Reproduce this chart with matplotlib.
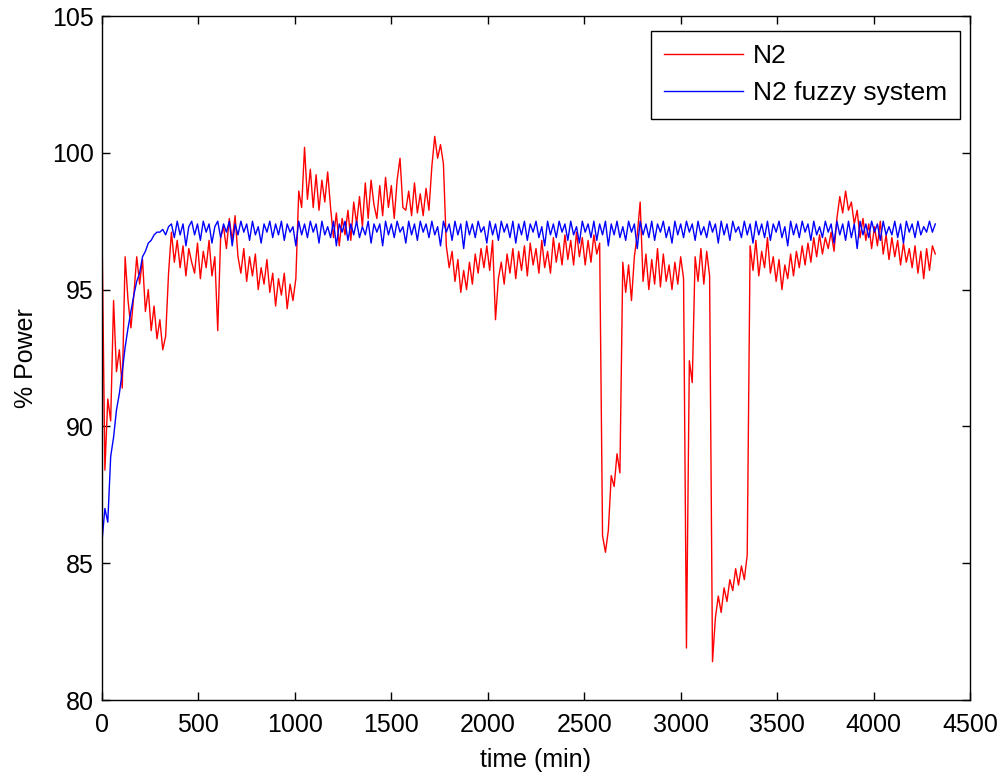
import numpy as np
import matplotlib
matplotlib.use("Agg")
import matplotlib.pyplot as plt

plt.rcParams['font.family'] = ['Liberation Sans', 'DejaVu Sans']

# sampling step of both records (minutes)
step_min = 15

# N2 measured power (%), one value every 15 min from 0 to 4320 min
n2_power = [
    97.2, 88.4, 91.0, 90.2, 94.6, 92.0, 92.8, 91.4,
    96.2, 94.6, 93.6, 94.8, 96.2, 95.2, 96.1, 94.2,
    95.0, 93.5, 94.4, 93.2, 93.9, 92.8, 93.3, 95.6,
    97.1, 96.0, 96.8, 95.8, 96.6, 95.5, 96.5, 96.0,
    95.6, 96.7, 95.4, 96.4, 95.8, 96.8, 95.5, 96.2,
    93.5, 96.9, 97.3, 96.5, 97.6, 96.8, 97.7, 96.2,
    95.6, 96.5, 95.3, 96.2, 95.5, 96.3, 95.0, 95.8,
    95.2, 96.1, 94.9, 95.6, 94.4, 95.4, 94.8, 95.6,
    94.3, 95.2, 94.6, 95.4, 98.6, 98.0, 100.2, 98.3,
    99.4, 98.0, 99.2, 97.9, 99.0, 98.2, 99.3, 98.0,
    96.9, 97.8, 96.6, 97.6, 97.0, 97.9, 96.8, 98.2,
    97.4, 98.4, 97.3, 98.9, 97.6, 99.0, 98.1, 97.6,
    98.8, 97.7, 99.1, 98.0, 98.8, 97.6, 99.0, 99.8,
    98.0, 97.9, 98.6, 97.7, 98.9, 97.8, 98.5, 97.7,
    98.7, 97.9, 99.5, 100.6, 99.8, 100.3, 99.6, 96.6,
    95.8, 96.4, 95.3, 96.1, 94.9, 95.7, 95.0, 96.0,
    95.2, 96.3, 95.6, 96.5, 95.8, 96.6, 95.7, 96.8,
    93.9, 95.4, 96.0, 95.2, 96.3, 95.6, 96.5, 95.4,
    96.4, 95.7, 96.6, 95.5, 96.7, 95.9, 96.5, 95.6,
    96.8, 95.8, 96.4, 95.6, 96.9, 96.0, 96.7, 95.9,
    97.0, 96.1, 96.8, 95.9, 97.1, 96.2, 96.9, 95.9,
    96.8, 96.0, 97.0, 96.3, 96.7, 86.0, 85.4, 86.2,
    88.2, 87.8, 89.0, 88.3, 96.0, 94.9, 95.9, 94.6,
    96.2, 97.0, 98.2, 95.3, 96.3, 95.0, 96.1, 95.2,
    96.5, 95.1, 96.3, 95.3, 95.9, 95.0, 96.0, 95.2,
    96.2, 95.4, 81.9, 92.4, 91.6, 96.2, 95.3, 96.5,
    95.2, 96.4, 95.5, 81.4, 83.0, 83.8, 83.2, 84.1,
    83.6, 84.4, 84.0, 84.8, 84.2, 84.9, 84.4, 85.3,
    96.6, 95.7, 96.8, 95.5, 96.4, 95.8, 96.9, 95.6,
    96.2, 95.3, 96.1, 95.0, 95.9, 95.4, 96.3, 95.5,
    96.4, 95.8, 96.6, 95.9, 96.7, 96.0, 96.9, 96.2,
    97.0, 96.3, 96.9, 96.5, 97.1, 96.4, 97.6, 98.4,
    97.8, 98.6, 97.9, 98.2, 97.4, 97.9, 96.9, 97.6,
    96.8, 97.4, 96.5, 97.3, 96.6, 97.5, 96.3, 97.0,
    96.1, 96.9, 96.2, 96.8, 95.9, 96.7, 96.0, 96.5,
    95.8, 96.6, 95.6, 96.4, 95.4, 96.5, 95.7, 96.6,
    96.3,
]

# N2 fuzzy system output (%), same sampling
fuzzy_power = [
    85.8, 87.0, 86.5, 88.9, 89.6, 90.6, 91.2, 92.0,
    92.9, 93.6, 94.2, 94.8, 95.3, 95.6, 96.2, 96.4,
    96.7, 96.8, 97.0, 97.1, 97.1, 97.2, 97.0, 97.3,
    97.4, 96.9, 97.5, 97.0, 97.4, 96.6, 97.3, 97.5,
    97.0, 97.4, 96.8, 97.5, 97.1, 97.4, 96.7, 97.3,
    97.5, 96.9, 97.4, 97.1, 97.5, 96.6, 97.4, 97.0,
    97.5, 97.1, 97.4, 96.8, 97.5, 97.0, 97.3, 96.7,
    97.4, 97.1, 97.5, 96.9, 97.4, 97.0, 97.5, 96.8,
    97.4, 97.1, 97.3, 96.6, 97.5, 97.0, 97.4, 96.9,
    97.5, 97.1, 97.4, 96.7, 97.5, 97.0, 97.3, 96.9,
    97.5, 96.6, 97.4, 97.1, 97.5, 96.8, 97.4, 97.0,
    97.5, 96.9, 97.3, 97.0, 97.5, 96.7, 97.4, 97.1,
    97.4, 96.6, 97.5, 97.0, 97.4, 96.9, 97.5, 97.1,
    97.3, 96.7, 97.5, 97.0, 97.4, 96.8, 97.5, 97.1,
    97.4, 96.9, 97.5, 97.0, 97.3, 96.6, 97.5, 97.1,
    97.4, 96.8, 97.5, 97.0, 97.4, 96.5, 97.5, 97.0,
    97.4, 96.9, 97.5, 97.1, 97.3, 96.7, 97.5, 97.0,
    97.4, 96.8, 97.5, 97.1, 97.4, 96.9, 97.5, 96.7,
    97.4, 97.0, 97.5, 96.8, 97.4, 97.1, 97.5, 96.9,
    97.3, 96.6, 97.5, 97.0, 97.4, 96.9, 97.5, 97.1,
    97.4, 96.8, 97.5, 97.0, 97.3, 96.7, 97.5, 97.1,
    97.4, 96.9, 97.5, 96.8, 97.4, 97.0, 97.5, 96.6,
    97.4, 97.0, 97.5, 96.9, 97.3, 96.8, 97.5, 97.1,
    97.4, 96.5, 97.5, 97.0, 97.4, 96.9, 97.5, 96.8,
    97.4, 97.1, 97.5, 96.9, 97.3, 96.7, 97.5, 97.0,
    97.4, 96.9, 97.5, 97.1, 97.4, 96.8, 97.5, 97.0,
    97.3, 96.9, 97.5, 97.1, 97.4, 96.7, 97.5, 97.0,
    97.4, 96.8, 97.5, 97.1, 97.3, 96.9, 97.5, 97.0,
    97.4, 96.7, 97.5, 97.0, 97.4, 96.9, 97.5, 96.8,
    97.4, 97.1, 97.5, 96.9, 97.3, 96.6, 97.5, 97.0,
    97.4, 96.9, 97.5, 97.1, 97.4, 96.8, 97.5, 97.0,
    97.3, 96.9, 97.5, 97.1, 97.4, 96.7, 97.5, 97.0,
    97.4, 96.8, 97.5, 96.9, 97.4, 96.5, 97.5, 97.0,
    97.4, 96.9, 97.5, 97.1, 97.4, 96.8, 97.5, 97.0,
    97.3, 97.0, 97.5, 96.9, 97.4, 96.7, 97.5, 97.1,
    97.4, 96.9, 97.5, 97.0, 97.3, 97.1, 97.5, 97.1,
    97.4,
]

series_labels = ["N2", "N2 fuzzy system"]
x_ticks = [0, 500, 1000, 1500, 2000, 2500, 3000, 3500, 4000, 4500]
y_ticks = [80, 85, 90, 95, 100, 105]

t_n2 = np.arange(len(n2_power)) * step_min
t_fz = np.arange(len(fuzzy_power)) * step_min

fig = plt.figure(figsize=(10.04, 7.78), dpi=100)
ax = fig.add_axes([102 / 1004, 1 - 700 / 778, 868 / 1004, 684 / 778])

ax.plot(t_n2, n2_power, color='#ff0000', lw=1.0, label=series_labels[0])
ax.plot(t_fz, fuzzy_power, color='#0000ff', lw=1.0, label=series_labels[1])

ax.set_xlim(0, 4500)
ax.set_ylim(80, 105)
ax.set_xticks(x_ticks)
ax.set_yticks(y_ticks)
ax.tick_params(direction='in', length=6, width=1, top=True, right=True,
               labelsize=18)
ax.tick_params(axis='x', pad=9)
ax.tick_params(axis='y', pad=6)
for s in ax.spines.values():
    s.set_linewidth(1.0)

ax.set_xlabel("time (min)", fontsize=18, labelpad=8)
ax.set_ylabel("% Power", fontsize=18, labelpad=10)

leg = ax.legend(loc='upper right', bbox_to_anchor=(0.9885, 0.978),
                borderaxespad=0, fontsize=19, fancybox=False,
                edgecolor='black', framealpha=1, handlelength=3.0,
                handletextpad=0.35, labelspacing=0.5, borderpad=0.5)
leg.get_frame().set_linewidth(1.0)

fig.savefig("out.png", dpi=100)
